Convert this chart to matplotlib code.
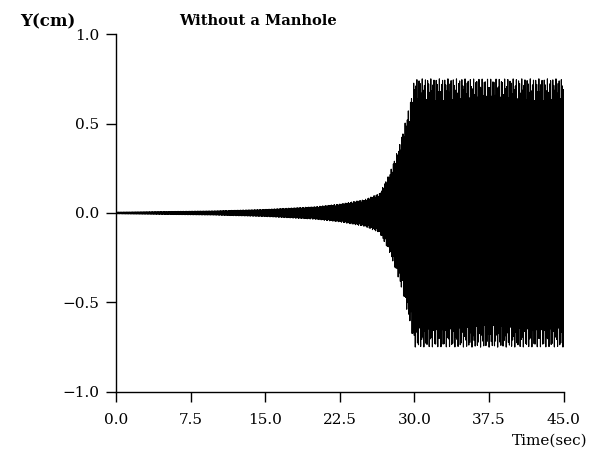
import matplotlib

matplotlib.use("Agg")
import matplotlib.pyplot as plt  # noqa: E402
import numpy as np  # noqa: E402

# envelope of the response (time in s, amplitude in cm)
env_t = [0.0, 5.0, 10.0, 15.0, 20.0, 22.5, 25.0, 26.5, 27.5, 28.5, 29.5, 30.0, 45.0]
env_y = [0.005, 0.008, 0.012, 0.02, 0.035, 0.05, 0.075, 0.11, 0.22, 0.38, 0.6, 0.75, 0.75]
freq_hz = 9.3   # dominant oscillation frequency
dt = 0.02       # sampling step of the record

x_ticks = [0.0, 7.5, 15.0, 22.5, 30.0, 37.5, 45.0]
y_ticks = [-1.0, -0.5, 0.0, 0.5, 1.0]

t = np.arange(0.0, 45.0 + dt, dt)
amp = np.interp(t, env_t, env_y)
y = amp * np.sin(2 * np.pi * freq_hz * t)

plt.rcParams["font.family"] = ["DejaVu Serif"]

fig = plt.figure(figsize=(6.01, 4.61), dpi=100)
ax = fig.add_axes([0.193, 0.150, 0.745, 0.776])
ax.plot(t, y, color="black", lw=0.8)

ax.set_xlim(0, 45)
ax.set_ylim(-1, 1)
ax.set_xticks(x_ticks)
ax.set_xticklabels([f"{v:.1f}" for v in x_ticks])
ax.set_yticks(y_ticks)
ax.set_yticklabels([f"{v:.1f}".replace("-", "\u2212") for v in y_ticks])
for s in ("top", "right"):
    ax.spines[s].set_visible(False)
for s in ("left", "bottom"):
    ax.spines[s].set_linewidth(1.0)
ax.tick_params(direction="out", length=7, width=1, labelsize=11)
ax.tick_params(axis="x", pad=8)
ax.tick_params(axis="y", pad=5)

fig.text(0.033, 0.97, "Y(cm)", fontsize=12, fontweight="bold", va="top")
fig.text(0.43, 0.97, "Without a Manhole", fontsize=10.5, fontweight="bold", va="top", ha="center")
fig.text(0.915, 0.045, "Time(sec)", fontsize=11, ha="center", va="center")

fig.savefig("out.png", dpi=100)
